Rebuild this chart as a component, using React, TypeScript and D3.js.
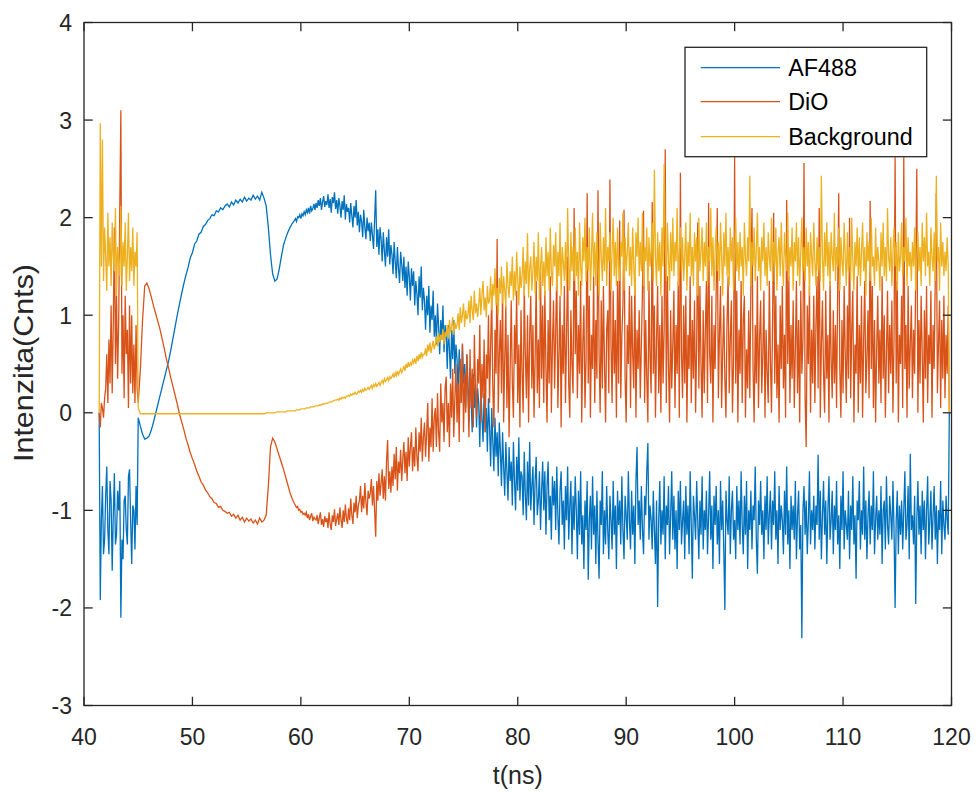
import React from "react";
import * as d3 from "d3";

// sampling: start part every 0.1 ns from 41.4, middle part every 0.2 ns from 45.2,
// late part every 0.1 ns from 59.4
const T_S_START = 41.4;
const T_S_STEP = 0.1;
const T_A_START = 45.2;
const T_A_STEP = 0.2;
const T_B_START = 59.4;
const T_B_STEP = 0.1;

const xTicks = [40, 50, 60, 70, 80, 90, 100, 110, 120];
const yTicks = [-3, -2, -1, 0, 1, 2, 3, 4];
const seriesNames = ["AF488", "DiO", "Background"];
const seriesColors = ["#0072BD", "#D95319", "#EDB120"];
const xLabel = "t(ns)";
const yLabel = "Intenzita(Cnts)";

const af488Start = [
  0, -1.92, -1.1, -0.75, -1.45, -1.3, -0.85, -0.55, -1.2, -1.45,
  -0.7, -0.9, -1.62, -1.05, -0.62, -1.35, -1.25, -0.8, -1.0, -0.7,
  -2.1, -1.3, -1.5, -0.9, -0.85, -1.2, -1.35, -0.65, -0.58, -1.1,
  -1.55, -0.95, -1.0, -1.4, -0.75, -1.15, -0.05,
];

const af488Mid = [
  -0.14,
  -0.22, -0.27, -0.26, -0.24, -0.18, -0.1, -0.01, 0.08, 0.17, 0.26,
  0.35, 0.44, 0.53, 0.64, 0.76, 0.88, 1.0, 1.11, 1.22, 1.32,
  1.41, 1.49, 1.59, 1.64, 1.73, 1.76, 1.83, 1.85, 1.91, 1.93,
  1.97, 1.99, 2.03, 2.02, 2.07, 2.06, 2.1, 2.08, 2.12, 2.14,
  2.11, 2.16, 2.13, 2.18, 2.15, 2.19, 2.16, 2.21, 2.17, 2.2,
  2.18, 2.23, 2.19, 2.22, 2.18, 2.26, 2.2, 2.12, 1.9, 1.62,
  1.42, 1.35, 1.37, 1.47, 1.6, 1.72, 1.79, 1.85, 1.9, 1.94,
];

const af488Late = [
  1.97, 1.99, 1.96, 2.01, 2.0, 2.03, 1.99, 2.04, 2.02, 2.06,
  2.03, 2.08, 2.05, 2.1, 2.04, 2.12, 2.07, 2.09, 2.14, 2.08,
  2.15, 2.1, 2.18, 2.12, 2.2, 2.08, 2.16, 2.22, 2.11, 2.17,
  2.13, 2.24, 2.1, 2.19, 2.05, 2.21, 2.15, 2.26, 2.09, 2.18,
  2.04, 2.2, 2.12, 2.0, 2.17, 2.08, 2.23, 1.98, 2.14, 2.06,
  2.1, 1.95, 2.15, 2.02, 1.9, 2.12, 2.0, 2.18, 1.92, 2.06,
  1.85, 2.03, 1.96, 1.8, 2.08, 1.9, 1.78, 2.0, 1.86, 1.95,
  1.76, 1.95, 1.82, 1.68, 1.98, 2.28, 1.7, 1.88, 1.62, 1.9,
  1.78, 1.55, 1.85, 1.66, 1.5, 1.8, 1.6, 1.88, 1.52, 1.72,
  1.62, 1.42, 1.75, 1.55, 1.38, 1.7, 1.48, 1.33, 1.65, 1.52,
  1.35, 1.6, 1.28, 1.5, 1.2, 1.55, 1.4, 1.15, 1.48, 1.3,
  1.45, 1.1, 1.35, 1.22, 1.0, 1.4, 1.18, 1.5, 1.05, 1.28,
  1.15, 0.85, 1.2, 1.0, 1.3, 0.82, 1.1, 0.95, 1.25, 0.78,
  1.0, 0.7, 1.12, 0.88, 0.6, 0.95, 0.75, 1.1, 0.62, 0.9,
  0.8, 0.45, 0.9, 0.65, 0.35, 0.85, 0.55, 0.95, 0.4, 0.7,
  0.55, 0.2, 0.65, 0.4, 0.1, 0.7, 0.3, 0.5, 0.05, 0.6,
  0.35, -0.1, 0.45, 0.15, -0.2, 0.4, 0.05, 0.3, -0.15, 0.25,
  0.1, -0.35, 0.25, -0.05, -0.3, 0.2, -0.2, 0.05, -0.4, 0.15,
  -0.15, -0.55, 0.05, -0.3, -0.6, -0.05, -0.45, -0.2, -0.65, -0.1,
  -0.4, -0.75, -0.2, -0.55, -0.85, -0.3, -0.6, -0.9, -0.35, -0.7,
  -0.5, -0.95, -0.3, -0.7, -1.0, -0.45, -0.8, -0.25, -0.9, -0.6,
  -0.65, -1.05, -0.4, -0.85, -1.1, -0.5, -0.95, -0.3, -1.0, -0.75,
  -0.55, -1.15, -0.7, -0.45, -1.05, -0.9, -0.6, -1.2, -0.8, -0.5,
  -1.0, -0.6, -1.25, -0.75, -0.5, -1.1, -0.85, -1.3, -0.65, -0.95,
  -0.7, -1.2, -0.55, -1.05, -1.35, -0.8, -0.6, -1.15, -0.9, -1.4,
  -0.75, -1.1, -0.55, -1.3, -0.95, -0.7, -1.45, -0.85, -1.2, -0.65,
  -1.0, -1.5, -0.8, -1.25, -0.6, -1.35, -1.05, -1.6, -0.9, -1.2,
  -0.7, -1.71, -1.1, -0.85, -1.4, -0.65, -1.25, -0.95, -1.55, -0.8,
  -1.3, -1.7, -0.9, -1.15, -0.6, -1.45, -1.0, -1.35, -0.75, -1.2,
  -1.5, -0.85, -1.1, -1.4, -0.7, -1.25, -0.95, -1.6, -0.8, -1.15,
  -0.9, -1.35, -0.65, -1.2, -1.5, -0.85, -1.05, -1.3, -0.6, -1.1,
  -1.4, -0.8, -1.25, -0.95, -1.55, -0.7, -0.35, -1.15, -0.9, -1.3,
  -0.75, -1.2, -1.45, -0.85, -1.05, -0.6, -0.31, -1.3, -0.95, -1.1,
  -1.4, -0.8, -1.2, -1.55, -0.9, -1.99, -1.1, -0.7, -1.35, -1.0,
  -1.25, -0.65, -1.5, -0.95, -1.15, -0.75, -1.45, -1.05, -0.6, -1.3,
  -0.85, -1.4, -1.0, -1.6, -0.8, -1.2, -0.7, -1.35, -1.1, -0.9,
  -1.5, -0.75, -1.25, -0.95, -1.45, -0.6, -1.15, -1.7, -0.85, -1.05,
  -1.3, -0.7, -1.1, -1.5, -0.9, -1.25, -0.65, -1.4, -1.0, -1.2,
  -0.8, -1.45, -1.05, -0.6, -1.3, -0.95, -1.6, -0.85, -1.15, -0.75,
  -1.35, -1.0, -1.55, -0.7, -1.2, -0.9, -1.4, -2.02, -0.8, -1.1,
  -1.25, -0.65, -1.45, -1.0, -0.8, -1.3, -1.1, -1.5, -0.75, -1.2,
  -0.9, -1.35, -0.6, -1.15, -1.45, -0.85, -1.25, -0.7, -1.6, -1.0,
  -1.2, -0.8, -1.4, -0.95, -1.1, -0.55, -1.3, -1.65, -0.9, -1.15,
  -0.7, -1.25, -1.0, -1.5, -0.85, -1.2, -0.65, -1.35, -1.05, -0.8,
  -1.4, -0.9, -1.15, -0.6, -1.3, -1.0, -1.55, -0.75, -1.2, -0.95,
  -1.1, -1.45, -0.8, -1.25, -0.55, -1.35, -1.0, -1.6, -0.85, -1.2,
  -0.95, -1.3, -0.7, -1.5, -1.05, -0.8, -1.4, -1.15, -2.31, -1.0,
  -0.75, -1.25, -0.9, -1.45, -1.1, -0.6, -1.35, -1.0, -1.2, -0.85,
  -1.4, -0.95, -1.15, -0.43, -1.3, -0.8, -1.5, -1.05, -0.7, -1.25,
  -0.9, -1.55, -1.0, -0.65, -1.3, -1.1, -0.8, -1.45, -0.95, -1.2,
  -0.7, -1.35, -1.05, -1.6, -0.85, -1.2, -0.6, -1.4, -1.0, -1.15,
  -1.3, -0.8, -1.5, -0.95, -1.2, -0.65, -1.35, -1.05, -1.7, -0.9,
  -1.1, -0.7, -1.4, -1.0, -1.25, -0.55, -1.3, -0.9, -1.5, -1.05,
  -0.8, -1.35, -0.95, -1.2, -0.6, -1.45, -1.1, -0.85, -1.3, -1.0,
  -1.25, -0.75, -1.55, -1.0, -0.9, -1.4, -0.65, -1.15, -1.35, -0.85,
  -1.05, -1.3, -0.7, -1.2, -2.0, -1.1, -0.8, -1.45, -0.95, -1.25,
  -0.9, -1.4, -1.0, -0.6, -1.3, -1.15, -0.75, -1.5, -0.42, -1.2,
  -1.05, -1.35, -0.85, -1.96, -1.1, -0.7, -1.25, -0.95, -1.45, -0.8,
  -1.2, -0.9, -1.5, -1.0, -0.65, -1.35, -1.1, -0.8, -1.4, -1.05,
  -0.75, -1.3, -0.95, -1.55, -1.0, -1.2, -0.7, -1.45, -0.9, -1.15,
  -1.3, -0.85, -1.1, -1.25, 0,
];

const dioStart = [
  0, -0.15, 0.1, 0.05, -0.05, 0.15, 0.25, 0.6, 0.1, 0.75,
  0.3, 1.1, 0.2, 0.9, 1.9, 0.5, 1.2, 0.35, 0.95, 2.1,
  3.1, 0.4, 1.0, 0.15, 1.2, 0.6, 0.85, 0.05, 1.1, 0.3,
  1.0, 0.2, 0.7, 0.1, 0.9, 0.25, 0.1,
];

const dioMid = [
  0.45,
  0.95, 1.3, 1.33, 1.27, 1.19, 1.1, 1.02, 0.94, 0.86, 0.76,
  0.66, 0.55, 0.46, 0.36, 0.27, 0.18, 0.09, -0.01, -0.09, -0.17,
  -0.26, -0.33, -0.41, -0.47, -0.53, -0.6, -0.65, -0.71, -0.74, -0.79,
  -0.82, -0.86, -0.88, -0.92, -0.93, -0.97, -0.96, -1.0, -1.01, -1.03,
  -1.02, -1.06, -1.04, -1.08, -1.05, -1.1, -1.07, -1.12, -1.08, -1.11,
  -1.09, -1.13, -1.1, -1.14, -1.08, -1.12, -1.1, -1.05, -0.75, -0.35,
  -0.26, -0.3, -0.37, -0.44, -0.51, -0.58, -0.66, -0.74, -0.82, -0.88,
];

const dioLate = [
  -0.93, -0.95, -0.97, -0.96, -1.0, -0.99, -1.02, -1.01, -1.04, -1.03,
  -1.05, -1.02, -1.08, -1.04, -1.1, -1.06, -1.03, -1.11, -1.07, -1.09,
  -1.1, -1.05, -1.14, -1.08, -1.02, -1.15, -1.09, -1.17, -1.06, -1.12,
  -1.08, -1.18, -1.02, -1.14, -1.2, -1.05, -1.12, -0.99, -1.16, -1.09,
  -1.03, -1.15, -0.97, -1.1, -1.18, -1.0, -1.12, -0.94, -1.08, -1.14,
  -0.98, -1.1, -0.88, -1.05, -1.14, -0.92, -1.02, -0.85, -1.08, -0.95,
  -0.9, -0.75, -1.02, -0.85, -0.98, -0.72, -0.92, -1.05, -0.8, -0.88,
  -0.82, -0.68, -0.95, -0.75, -1.0, -1.27, -0.7, -0.9, -0.62, -0.85,
  -0.72, -0.58, -0.88, -0.65, -0.9, -0.5, -0.28, -0.78, -0.6, -0.82,
  -0.55, -0.75, -0.42, -0.68, -0.35, -0.8, -0.5, -0.62, -0.38, -0.7,
  -0.48, -0.3, -0.62, -0.4, -0.7, -0.25, -0.55, -0.35, -0.2, -0.6,
  -0.35, -0.55, -0.15, -0.45, -0.6, -0.2, -0.4, -0.05, -0.5, -0.25,
  -0.1, -0.45, -0.2, 0.1, -0.5, -0.15, -0.35, 0.15, -0.4, -0.05,
  0.05, -0.35, 0.2, -0.2, -0.4, 0.3, -0.1, 0.1, -0.3, 0.25,
  0.37, -0.2, 0.1, -0.35, 0.3, -0.05, 0.45, -0.25, 0.15, 0.5,
  -0.1, 0.3, -0.3, 0.55, 0.1, 0.71, -0.2, 0.4, 0.0, 0.6,
  0.2, -0.25, 0.65, 0.05, 0.45, -0.15, 0.8, 0.25, -0.05, 0.55,
  0.3, 0.9, -0.1, 0.5, 0.15, 0.75, -0.2, 0.6, 0.35, 1.0,
  0.1, 0.7, 1.2, 0.25, -0.15, 0.85, 0.4, 1.78, 0.0, 0.6,
  0.95, 0.2, 1.3, -0.1, 0.55, 1.1, 0.05, 0.8, -0.25, 0.45,
  1.15, 0.3, -0.05, 0.9, 0.5, 1.25, 0.1, 0.7, -0.15, 1.05,
  0.4, 0.0, 1.3, 0.6, 0.15, 1.0, -0.1, 0.8, 1.2, 0.25,
  0.9, -0.05, 0.55, 1.35, 0.2, 0.75, 0.05, 1.5, 0.35, 1.1,
  0.1, 1.25, 0.45, -0.1, 0.95, 0.3, 1.4, 0.0, 0.7, 1.15,
  0.25, 0.85, 1.45, 0.05, 0.6, 1.2, -0.15, 0.9, 0.4, 1.3,
  0.1, 0.75, 1.6, 0.3, -0.05, 1.05, 0.5, 0.2, 2.1, 0.6,
  1.25, 0.15, 0.9, 0.4, 1.35, -0.1, 0.7, 1.1, 0.05, 0.55,
  2.25, 0.3, 1.2, -0.05, 0.8, 0.45, 1.4, 0.1, 0.95, 0.35,
  2.28, 0.6, 0.0, 1.15, 0.25, 1.3, 0.5, -0.1, 0.85, 1.05,
  0.2, 2.39, 0.7, 0.1, 1.25, 0.4, 0.95, -0.05, 1.35, 0.3,
  1.97, 0.15, 0.8, 1.1, 2.08, 0.35, -0.1, 0.9, 0.5, 1.3,
  0.05, 1.2, 0.6, 0.25, 1.4, -0.05, 0.85, 0.45, 1.05, 0.15,
  0.7, 1.25, 2.07, 0.1, 0.95, 0.35, -0.1, 1.35, 0.55, 0.2,
  2.16, 0.4, 1.1, -0.05, 0.75, 1.3, 0.2, 0.9, 0.0, 1.2,
  0.3, 0.85, 2.7, 0.1, 1.4, 0.5, -0.1, 1.05, 0.25, 0.7,
  1.25, 0.05, 0.9, 0.4, 1.35, -0.05, 2.46, 0.6, 0.15, 1.1,
  0.3, 1.2, -0.1, 0.8, 0.45, 1.4, 0.1, 0.95, 0.35, 1.15,
  0.0, 0.7, 1.95, 0.25, 1.3, 0.5, -0.05, 1.05, 0.2, 0.85,
  1.35, 0.1, 2.15, 0.6, 0.3, 1.2, -0.1, 0.9, 0.45, 1.25,
  2.1, 0.15, 0.8, 1.3, 0.05, 0.6, 1.1, 0.35, -0.05, 0.95,
  1.4, 0.2, 0.75, 1.15, 0.0, 0.5, 2.62, 0.3, 1.25, -0.1,
  0.85, 0.4, 1.35, 0.1, 0.95, 1.2, -0.05, 0.65, 0.25, 1.05,
  0.15, 1.3, 2.1, 0.45, -0.1, 0.9, 0.3, 1.4, 0.05, 0.75,
  1.15, 0.2, 0.6, 1.25, -0.05, 0.85, 0.4, 0.1, 1.35, 0.55,
  0.0, 0.95, 2.05, 0.3, 1.2, 0.15, 0.7, -0.1, 1.1, 0.45,
  1.3, 0.25, 0.8, -0.05, 2.18, 0.5, 1.4, 0.1, 0.9, 0.35,
  1.15, 0.05, 0.65, 1.35, 0.2, 0.95, -0.1, 1.25, 0.4, 0.75,
  2.56, 0.15, -0.35, 1.1, 0.5, 1.3, 0.0, 0.85, 0.3, 1.2,
  0.1, 0.9, 1.4, 0.25, 2.1, -0.05, 0.7, 1.15, 0.4, 0.0,
  1.25, 0.35, 0.8, -0.1, 1.35, 0.55, 0.15, 1.05, 0.3, 0.9,
  0.05, 1.2, 2.25, 0.45, -0.05, 0.95, 0.2, 1.3, 0.6, 0.1,
  1.1, 0.35, 2.0, 0.15, 0.85, 1.25, -0.1, 0.7, 0.4, 1.4,
  0.0, 0.9, 0.3, 1.2, -0.05, 0.75, 1.35, 0.2, 0.55, 1.05,
  0.15, 2.17, 0.45, 1.3, 0.05, 0.95, -0.1, 0.65, 1.2, 0.3,
  0.85, 0.1, 1.4, 0.35, 1.0, -0.05, 0.6, 1.25, 0.2, 0.9,
  0.4, 1.15, 0.0, 0.75, 2.62, 0.3, 1.35, -0.1, 0.8, 0.5,
  1.2, 0.05, 2.62, 0.45, 0.9, -0.05, 1.3, 0.25, 0.7, 1.1,
  0.15, 0.85, 0.4, 1.4, 2.5, 0.0, 0.95, 0.3, 1.2, 0.6,
  -0.1, 1.05, 0.35, 1.3, 0.1, 0.8, 0.5, 1.25, -0.05, 0.9,
  0.45, 1.35, 2.25, 0.2, 0.7, 1.15, 0.05, 0.95, 0.35, 1.2,
  0.15, 0.8, 0.4, 1.1, 0,
];

const backgroundStart = [
  0, 2.97, 1.5, 2.8, 1.35, 1.9, 1.6, 1.25, 2.05, 1.5,
  1.8, 1.3, 1.95, 1.6, 1.45, 2.1, 1.2, 1.7, 1.55, 1.4,
  2.12, 1.3, 1.75, 1.5, 1.95, 1.25, 1.6, 2.05, 1.35, 1.7,
  1.45, 1.9, 1.3, 1.65, 1.5, 1.85, 0.05,
];

const backgroundMid = [
  -0.01,
  -0.01, -0.01, -0.01, -0.01, -0.01, -0.01, -0.01, -0.01, -0.01, -0.01,
  -0.01, -0.01, -0.01, -0.01, -0.01, -0.01, -0.01, -0.01, -0.01, -0.01,
  -0.01, -0.01, -0.01, -0.01, -0.01, -0.01, -0.01, -0.01, -0.01, -0.01,
  -0.01, -0.01, -0.01, -0.01, -0.01, -0.01, -0.01, -0.01, -0.01, -0.01,
  -0.01, -0.01, -0.01, -0.01, -0.01, -0.01, -0.01, -0.01, -0.01, -0.01,
  -0.01, -0.01, -0.01, -0.01, -0.01, -0.01, -0.01, 0.0, 0.0, 0.0,
  0.0, 0.0, 0.01, 0.01, 0.01, 0.01, 0.01, 0.02, 0.02, 0.02,
];

const backgroundLate = [
  0.02, 0.02, 0.03, 0.03, 0.03, 0.03, 0.04, 0.04, 0.04, 0.04,
  0.04, 0.05, 0.05, 0.05, 0.05, 0.06, 0.06, 0.06, 0.06, 0.07,
  0.07, 0.07, 0.07, 0.08, 0.08, 0.08, 0.09, 0.09, 0.09, 0.1,
  0.1, 0.1, 0.11, 0.11, 0.11, 0.12, 0.12, 0.13, 0.13, 0.13,
  0.14, 0.13, 0.15, 0.14, 0.16, 0.15, 0.16, 0.15, 0.17, 0.17,
  0.18, 0.17, 0.19, 0.18, 0.2, 0.19, 0.21, 0.19, 0.2, 0.22,
  0.21, 0.23, 0.21, 0.24, 0.22, 0.25, 0.23, 0.24, 0.26, 0.24,
  0.26, 0.28, 0.25, 0.29, 0.27, 0.3, 0.27, 0.29, 0.31, 0.28,
  0.31, 0.33, 0.3, 0.35, 0.32, 0.34, 0.36, 0.33, 0.37, 0.35,
  0.37, 0.4, 0.36, 0.41, 0.38, 0.43, 0.39, 0.42, 0.45, 0.41,
  0.44, 0.48, 0.43, 0.5, 0.46, 0.52, 0.47, 0.51, 0.49, 0.54,
  0.51, 0.56, 0.5, 0.58, 0.53, 0.6, 0.55, 0.62, 0.57, 0.6,
  0.6, 0.66, 0.58, 0.7, 0.63, 0.72, 0.61, 0.68, 0.74, 0.65,
  0.7, 0.78, 0.68, 0.82, 0.72, 0.8, 0.75, 0.86, 0.7, 0.83,
  0.78, 0.9, 0.76, 0.95, 0.82, 0.88, 0.98, 0.8, 0.93, 0.86,
  0.9, 1.02, 0.85, 1.08, 0.92, 1.0, 1.12, 0.88, 1.05, 0.96,
  1.0, 1.15, 0.92, 1.2, 1.05, 0.95, 1.25, 1.02, 1.12, 0.98,
  1.1, 1.28, 1.0, 1.22, 1.35, 1.05, 1.18, 0.98, 1.3, 1.12,
  1.15, 1.4, 1.05, 1.32, 1.2, 1.48, 1.1, 1.28, 1.0, 1.38,
  1.22, 1.5, 1.12, 1.4, 1.25, 1.08, 1.55, 1.3, 1.18, 1.45,
  1.3, 1.6, 1.15, 1.45, 1.2, 1.65, 1.35, 1.1, 1.5, 1.28,
  1.4, 1.7, 1.2, 1.55, 1.32, 1.84, 1.18, 1.48, 1.6, 1.25,
  1.45, 1.75, 1.22, 1.6, 1.35, 1.85, 1.15, 1.5, 1.7, 1.3,
  1.55, 1.2, 1.8, 1.4, 1.65, 1.25, 1.9, 1.45, 1.3, 1.72,
  1.5, 1.85, 1.25, 1.65, 1.4, 1.95, 1.2, 1.7, 1.55, 1.35,
  1.75, 1.3, 2.1, 1.5, 1.25, 1.85, 1.45, 1.7, 1.35, 1.9,
  1.4, 1.65, 1.2, 1.95, 1.5, 1.3, 1.8, 1.55, 2.0, 1.35,
  1.7, 1.45, 1.9, 1.25, 1.6, 2.05, 1.4, 1.75, 1.3, 1.85,
  1.5, 1.2, 1.95, 1.6, 1.35, 1.8, 1.45, 2.1, 1.3, 1.7,
  1.55, 1.85, 1.25, 1.65, 2.0, 1.4, 1.75, 1.3, 1.9, 1.5,
  1.35, 1.75, 1.6, 2.05, 1.25, 1.8, 1.45, 1.65, 1.95, 1.4,
  1.7, 1.3, 1.9, 1.5, 1.2, 1.85, 1.6, 2.0, 1.4, 1.75,
  1.45, 2.05, 1.3, 1.7, 1.55, 1.9, 1.25, 1.8, 1.5, 1.65,
  1.95, 1.35, 2.49, 1.6, 1.3, 1.85, 1.45, 1.75, 1.2, 1.9,
  1.5, 2.55, 1.7, 1.35, 1.95, 1.6, 1.25, 1.85, 1.45, 2.0,
  1.4, 1.75, 1.55, 2.1, 1.3, 1.65, 1.9, 1.45, 1.8, 1.35,
  1.6, 1.95, 1.25, 1.75, 1.5, 2.05, 1.4, 1.7, 1.3, 1.85,
  1.55, 1.8, 1.2, 2.0, 1.45, 1.65, 1.9, 1.35, 1.75, 1.5,
  1.95, 1.3, 1.7, 1.55, 2.1, 1.4, 1.8, 1.25, 1.65, 1.9,
  1.45, 1.75, 1.35, 1.95, 1.6, 1.2, 1.85, 1.5, 2.05, 1.4,
  1.7, 1.3, 1.9, 1.55, 1.8, 1.25, 1.65, 2.0, 1.45, 1.75,
  1.35, 1.85, 1.5, 1.7, 1.2, 1.95, 1.6, 1.4, 1.8, 1.55,
  2.43, 1.3, 1.75, 1.5, 1.9, 1.35, 1.65, 2.05, 1.45, 1.7,
  1.25, 1.8, 1.55, 1.95, 1.4, 1.7, 1.3, 1.85, 1.6, 1.45,
  2.0, 1.35, 1.75, 1.5, 1.9, 1.25, 1.65, 1.8, 1.4, 1.95,
  1.55, 1.3, 1.85, 1.6, 1.45, 2.05, 1.35, 1.7, 1.5, 1.9,
  1.25, 1.75, 1.55, 1.95, 1.4, 1.8, 1.3, 1.65, 2.0, 1.45,
  1.7, 1.35, 1.9, 1.5, 1.75, 1.2, 1.85, 1.6, 1.4, 1.95,
  1.55, 1.3, 1.8, 1.45, 1.7, 1.35, 2.43, 1.6, 1.25, 1.85,
  1.5, 1.95, 1.4, 1.75, 1.3, 1.85, 1.6, 1.45, 2.05, 1.35,
  1.7, 1.5, 1.9, 1.25, 1.8, 1.55, 1.4, 1.95, 1.6, 1.3,
  1.85, 1.45, 1.7, 1.35, 2.0, 1.55, 1.25, 1.75, 1.5, 1.9,
  1.4, 1.8, 1.3, 1.65, 1.95, 1.45, 1.7, 1.2, 1.85, 1.55,
  1.75, 1.35, 2.0, 1.5, 1.6, 1.3, 1.9, 1.45, 1.7, 1.55,
  1.25, 1.85, 1.5, 1.95, 1.4, 1.7, 1.35, 2.1, 1.6, 1.45,
  1.8, 1.3, 1.65, 1.9, 1.5, 1.75, 1.25, 1.85, 1.45, 1.6,
  1.95, 1.4, 1.7, 1.55, 2.0, 1.3, 1.8, 1.5, 1.65, 1.35,
  1.75, 1.5, 1.9, 1.25, 1.6, 1.85, 1.45, 1.7, 1.3, 1.95,
  1.55, 1.8, 1.4, 2.05, 1.5, 1.65, 1.3, 1.9, 1.6, 1.45,
  1.85, 1.35, 2.43, 1.55, 1.7, 1.25, 1.95, 1.5, 1.75, 1.4,
  1.65, 1.45, 1.8, 1.5, 0,
];

const seriesStart = [af488Start, dioStart, backgroundStart];
const seriesMid = [af488Mid, dioMid, backgroundMid];
const seriesLate = [af488Late, dioLate, backgroundLate];

const W = 976;
const H = 792;
const PL = 84;
const PR = 951.5;
const PT = 22.5;
const PB = 705.5;
const AX = "#262626";
const FONT = "'Liberation Sans', Arial, Helvetica, sans-serif";

function toPoints(s: number[], a: number[], b: number[]): [number, number][] {
  const ps = s.map((v, i) => [T_S_START + i * T_S_STEP, v] as [number, number]);
  const pa = a.map((v, i) => [T_A_START + i * T_A_STEP, v] as [number, number]);
  const pb = b.map((v, j) => [T_B_START + j * T_B_STEP, v] as [number, number]);
  return ps.concat(pa, pb);
}

export default function App() {
  const x = d3.scaleLinear().domain([40, 120]).range([PL, PR]);
  const y = d3.scaleLinear().domain([-3, 4]).range([PB, PT]);
  const line = d3
    .line<[number, number]>()
    .x((d) => x(d[0]))
    .y((d) => y(d[1]));
  const tickLen = 8.7;

  const legX = 685;
  const legY = 47.3;
  const legW = 241.7;
  const legH = 109.4;
  const rowY = [67.7, 101.7, 136.7];

  return (
    <div style={{ position: "absolute", left: 0, top: 0 }}>
      <svg width={W} height={H} style={{ display: "block", background: "#fff" }}>
        <defs>
          <clipPath id="plotclip">
            <rect x={PL} y={PT} width={PR - PL} height={PB - PT} />
          </clipPath>
        </defs>
        <rect x={0} y={0} width={W} height={H} fill="#fff" />
        <g clipPath="url(#plotclip)">
          {seriesStart.map((s, k) => (
            <path
              key={k}
              d={line(toPoints(s, seriesMid[k], seriesLate[k])) || ""}
              fill="none"
              stroke={seriesColors[k]}
              strokeWidth={1.3}
            />
          ))}
        </g>
        <rect
          x={PL}
          y={PT}
          width={PR - PL}
          height={PB - PT}
          fill="none"
          stroke={AX}
          strokeWidth={1.3}
        />
        {xTicks.map((t) => (
          <g key={"xt" + t}>
            <line x1={x(t)} x2={x(t)} y1={PB} y2={PB - tickLen} stroke={AX} strokeWidth={1.3} />
            <line x1={x(t)} x2={x(t)} y1={PT} y2={PT + tickLen} stroke={AX} strokeWidth={1.3} />
            <text x={x(t)} y={745} textAnchor="middle" fontFamily={FONT} fontSize={23} fill={AX}>
              {t}
            </text>
          </g>
        ))}
        {yTicks.map((v) => (
          <g key={"yt" + v}>
            <line x1={PL} x2={PL + tickLen} y1={y(v)} y2={y(v)} stroke={AX} strokeWidth={1.3} />
            <line x1={PR} x2={PR - tickLen} y1={y(v)} y2={y(v)} stroke={AX} strokeWidth={1.3} />
            <text x={72} y={y(v) + 8.5} textAnchor="end" fontFamily={FONT} fontSize={23} fill={AX}>
              {v}
            </text>
          </g>
        ))}
        <text x={(PL + PR) / 2} y={784} textAnchor="middle" fontFamily={FONT} fontSize={25} fill={AX}>
          {xLabel}
        </text>
        <text
          transform={`translate(33, ${(PT + PB) / 2 - 1}) rotate(-90)`}
          textAnchor="middle"
          fontFamily={FONT}
          fontSize={28}
          textLength={198}
          lengthAdjust="spacingAndGlyphs"
          fill={AX}
        >
          {yLabel}
        </text>
        <rect x={legX} y={legY} width={legW} height={legH} fill="#fff" stroke={AX} strokeWidth={1.3} />
        {seriesNames.map((n, k) => (
          <g key={n}>
            <line x1={700.7} x2={780} y1={rowY[k]} y2={rowY[k]} stroke={seriesColors[k]} strokeWidth={1.3} />
            <text x={788.3} y={rowY[k] + 8} fontFamily={FONT} fontSize={23.3} fill="#000">
              {n}
            </text>
          </g>
        ))}
      </svg>
    </div>
  );
}
